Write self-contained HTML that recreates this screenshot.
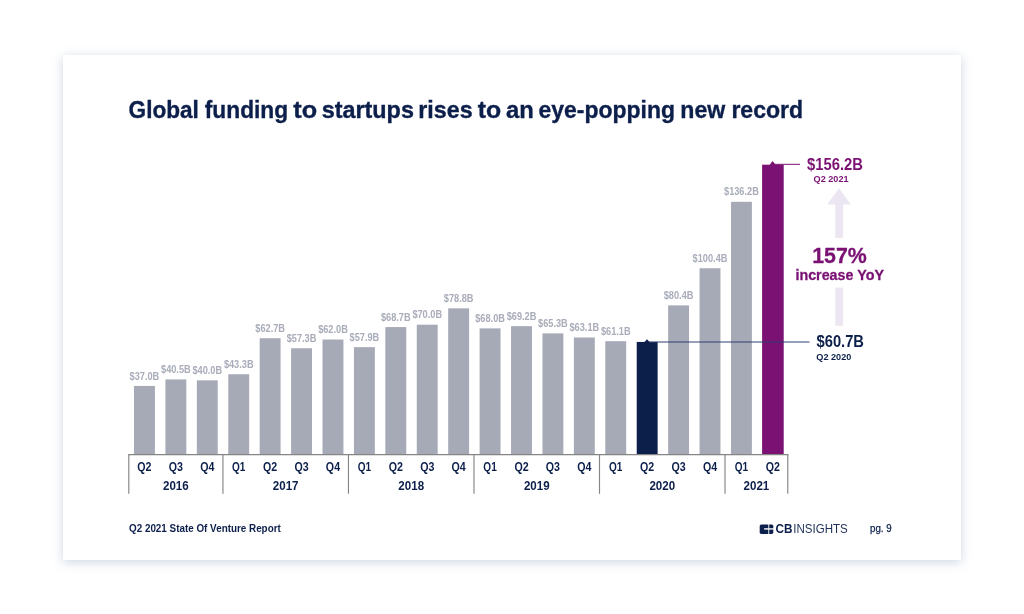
<!DOCTYPE html>
<html lang="en"><head><meta charset="utf-8"><title>Global funding to startups</title>
<style>
html,body{margin:0;padding:0;background:#fff;}
body{width:1024px;height:614px;overflow:hidden;position:relative;font-family:"Liberation Sans",sans-serif;}
.card{position:absolute;left:63.4px;top:54.8px;width:897.2px;height:505px;background:#fff;box-shadow:0 2px 10px rgba(105,135,175,.34);}
svg{position:absolute;left:0;top:0;}
text{font-family:"Liberation Sans",sans-serif;}
</style></head><body>
<div class="card"></div>
<svg width="1024" height="614" viewBox="0 0 1024 614">
<text y="118" font-size="24.5" font-weight="700" fill="#0c1f4b" stroke="#0c1f4b" stroke-width="0.35"><tspan x="128.55" textLength="70.36" lengthAdjust="spacingAndGlyphs">Global</tspan> <tspan x="204.78" textLength="83.41" lengthAdjust="spacingAndGlyphs">funding</tspan> <tspan x="293.38" textLength="23.82" lengthAdjust="spacingAndGlyphs">to</tspan> <tspan x="321.67" textLength="92.25" lengthAdjust="spacingAndGlyphs">startups</tspan> <tspan x="418.33" textLength="54.27" lengthAdjust="spacingAndGlyphs">rises</tspan> <tspan x="477.79" textLength="23.44" lengthAdjust="spacingAndGlyphs">to</tspan> <tspan x="505.88" textLength="27.85" lengthAdjust="spacingAndGlyphs">an</tspan> <tspan x="538.52" textLength="136.54" lengthAdjust="spacingAndGlyphs">eye-popping</tspan> <tspan x="680.32" textLength="44.99" lengthAdjust="spacingAndGlyphs">new</tspan> <tspan x="731.40" textLength="71.80" lengthAdjust="spacingAndGlyphs">record</tspan></text>
<rect x="134.00" y="385.93" width="20.9" height="68.67" fill="#a6a9b6"/>
<text x="144.45" y="379.53" font-size="10.6" font-weight="700" fill="#a9acb9" text-anchor="middle" textLength="29.66" lengthAdjust="spacingAndGlyphs">$37.0B</text>
<text x="144.45" y="470.6" font-size="12" font-weight="700" fill="#0c1f4b" text-anchor="middle" textLength="14.2" lengthAdjust="spacingAndGlyphs">Q2</text>
<rect x="165.42" y="379.43" width="20.9" height="75.17" fill="#a6a9b6"/>
<text x="175.87" y="373.03" font-size="10.6" font-weight="700" fill="#a9acb9" text-anchor="middle" textLength="29.66" lengthAdjust="spacingAndGlyphs">$40.5B</text>
<text x="175.87" y="470.6" font-size="12" font-weight="700" fill="#0c1f4b" text-anchor="middle" textLength="14.2" lengthAdjust="spacingAndGlyphs">Q3</text>
<rect x="196.84" y="380.36" width="20.9" height="74.24" fill="#a6a9b6"/>
<text x="207.29" y="373.96" font-size="10.6" font-weight="700" fill="#a9acb9" text-anchor="middle" textLength="29.66" lengthAdjust="spacingAndGlyphs">$40.0B</text>
<text x="207.29" y="470.6" font-size="12" font-weight="700" fill="#0c1f4b" text-anchor="middle" textLength="14.2" lengthAdjust="spacingAndGlyphs">Q4</text>
<rect x="228.26" y="374.24" width="20.9" height="80.36" fill="#a6a9b6"/>
<text x="238.71" y="367.84" font-size="10.6" font-weight="700" fill="#a9acb9" text-anchor="middle" textLength="29.66" lengthAdjust="spacingAndGlyphs">$43.3B</text>
<text x="238.71" y="470.6" font-size="12" font-weight="700" fill="#0c1f4b" text-anchor="middle" textLength="13.4" lengthAdjust="spacingAndGlyphs">Q1</text>
<rect x="259.68" y="338.23" width="20.9" height="116.37" fill="#a6a9b6"/>
<text x="270.13" y="331.83" font-size="10.6" font-weight="700" fill="#a9acb9" text-anchor="middle" textLength="29.66" lengthAdjust="spacingAndGlyphs">$62.7B</text>
<text x="270.13" y="470.6" font-size="12" font-weight="700" fill="#0c1f4b" text-anchor="middle" textLength="14.2" lengthAdjust="spacingAndGlyphs">Q2</text>
<rect x="291.10" y="348.25" width="20.9" height="106.35" fill="#a6a9b6"/>
<text x="301.55" y="341.85" font-size="10.6" font-weight="700" fill="#a9acb9" text-anchor="middle" textLength="29.66" lengthAdjust="spacingAndGlyphs">$57.3B</text>
<text x="301.55" y="470.6" font-size="12" font-weight="700" fill="#0c1f4b" text-anchor="middle" textLength="14.2" lengthAdjust="spacingAndGlyphs">Q3</text>
<rect x="322.52" y="339.53" width="20.9" height="115.07" fill="#a6a9b6"/>
<text x="332.97" y="333.13" font-size="10.6" font-weight="700" fill="#a9acb9" text-anchor="middle" textLength="29.66" lengthAdjust="spacingAndGlyphs">$62.0B</text>
<text x="332.97" y="470.6" font-size="12" font-weight="700" fill="#0c1f4b" text-anchor="middle" textLength="14.2" lengthAdjust="spacingAndGlyphs">Q4</text>
<rect x="353.94" y="347.14" width="20.9" height="107.46" fill="#a6a9b6"/>
<text x="364.39" y="340.74" font-size="10.6" font-weight="700" fill="#a9acb9" text-anchor="middle" textLength="29.66" lengthAdjust="spacingAndGlyphs">$57.9B</text>
<text x="364.39" y="470.6" font-size="12" font-weight="700" fill="#0c1f4b" text-anchor="middle" textLength="13.4" lengthAdjust="spacingAndGlyphs">Q1</text>
<rect x="385.36" y="327.09" width="20.9" height="127.51" fill="#a6a9b6"/>
<text x="395.81" y="320.69" font-size="10.6" font-weight="700" fill="#a9acb9" text-anchor="middle" textLength="29.66" lengthAdjust="spacingAndGlyphs">$68.7B</text>
<text x="395.81" y="470.6" font-size="12" font-weight="700" fill="#0c1f4b" text-anchor="middle" textLength="14.2" lengthAdjust="spacingAndGlyphs">Q2</text>
<rect x="416.78" y="324.68" width="20.9" height="129.92" fill="#a6a9b6"/>
<text x="427.23" y="318.28" font-size="10.6" font-weight="700" fill="#a9acb9" text-anchor="middle" textLength="29.66" lengthAdjust="spacingAndGlyphs">$70.0B</text>
<text x="427.23" y="470.6" font-size="12" font-weight="700" fill="#0c1f4b" text-anchor="middle" textLength="14.2" lengthAdjust="spacingAndGlyphs">Q3</text>
<rect x="448.20" y="308.35" width="20.9" height="146.25" fill="#a6a9b6"/>
<text x="458.65" y="301.95" font-size="10.6" font-weight="700" fill="#a9acb9" text-anchor="middle" textLength="29.66" lengthAdjust="spacingAndGlyphs">$78.8B</text>
<text x="458.65" y="470.6" font-size="12" font-weight="700" fill="#0c1f4b" text-anchor="middle" textLength="14.2" lengthAdjust="spacingAndGlyphs">Q4</text>
<rect x="479.62" y="328.39" width="20.9" height="126.21" fill="#a6a9b6"/>
<text x="490.07" y="321.99" font-size="10.6" font-weight="700" fill="#a9acb9" text-anchor="middle" textLength="29.66" lengthAdjust="spacingAndGlyphs">$68.0B</text>
<text x="490.07" y="470.6" font-size="12" font-weight="700" fill="#0c1f4b" text-anchor="middle" textLength="13.4" lengthAdjust="spacingAndGlyphs">Q1</text>
<rect x="511.04" y="326.16" width="20.9" height="128.44" fill="#a6a9b6"/>
<text x="521.49" y="319.76" font-size="10.6" font-weight="700" fill="#a9acb9" text-anchor="middle" textLength="29.66" lengthAdjust="spacingAndGlyphs">$69.2B</text>
<text x="521.49" y="470.6" font-size="12" font-weight="700" fill="#0c1f4b" text-anchor="middle" textLength="14.2" lengthAdjust="spacingAndGlyphs">Q2</text>
<rect x="542.46" y="333.40" width="20.9" height="121.20" fill="#a6a9b6"/>
<text x="552.91" y="327.00" font-size="10.6" font-weight="700" fill="#a9acb9" text-anchor="middle" textLength="29.66" lengthAdjust="spacingAndGlyphs">$65.3B</text>
<text x="552.91" y="470.6" font-size="12" font-weight="700" fill="#0c1f4b" text-anchor="middle" textLength="14.2" lengthAdjust="spacingAndGlyphs">Q3</text>
<rect x="573.88" y="337.49" width="20.9" height="117.11" fill="#a6a9b6"/>
<text x="584.33" y="331.09" font-size="10.6" font-weight="700" fill="#a9acb9" text-anchor="middle" textLength="29.66" lengthAdjust="spacingAndGlyphs">$63.1B</text>
<text x="584.33" y="470.6" font-size="12" font-weight="700" fill="#0c1f4b" text-anchor="middle" textLength="14.2" lengthAdjust="spacingAndGlyphs">Q4</text>
<rect x="605.30" y="341.20" width="20.9" height="113.40" fill="#a6a9b6"/>
<text x="615.75" y="334.80" font-size="10.6" font-weight="700" fill="#a9acb9" text-anchor="middle" textLength="29.66" lengthAdjust="spacingAndGlyphs">$61.1B</text>
<text x="615.75" y="470.6" font-size="12" font-weight="700" fill="#0c1f4b" text-anchor="middle" textLength="13.4" lengthAdjust="spacingAndGlyphs">Q1</text>
<rect x="636.72" y="341.94" width="20.9" height="112.66" fill="#0c1f4b"/>
<text x="647.17" y="470.6" font-size="12" font-weight="700" fill="#0c1f4b" text-anchor="middle" textLength="14.2" lengthAdjust="spacingAndGlyphs">Q2</text>
<rect x="668.14" y="305.38" width="20.9" height="149.22" fill="#a6a9b6"/>
<text x="678.59" y="298.98" font-size="10.6" font-weight="700" fill="#a9acb9" text-anchor="middle" textLength="29.66" lengthAdjust="spacingAndGlyphs">$80.4B</text>
<text x="678.59" y="470.6" font-size="12" font-weight="700" fill="#0c1f4b" text-anchor="middle" textLength="14.2" lengthAdjust="spacingAndGlyphs">Q3</text>
<rect x="699.56" y="268.26" width="20.9" height="186.34" fill="#a6a9b6"/>
<text x="710.01" y="261.86" font-size="10.6" font-weight="700" fill="#a9acb9" text-anchor="middle" textLength="34.8" lengthAdjust="spacingAndGlyphs">$100.4B</text>
<text x="710.01" y="470.6" font-size="12" font-weight="700" fill="#0c1f4b" text-anchor="middle" textLength="14.2" lengthAdjust="spacingAndGlyphs">Q4</text>
<rect x="730.98" y="201.81" width="20.9" height="252.79" fill="#a6a9b6"/>
<text x="741.43" y="195.41" font-size="10.6" font-weight="700" fill="#a9acb9" text-anchor="middle" textLength="34.8" lengthAdjust="spacingAndGlyphs">$136.2B</text>
<text x="741.43" y="470.6" font-size="12" font-weight="700" fill="#0c1f4b" text-anchor="middle" textLength="13.4" lengthAdjust="spacingAndGlyphs">Q1</text>
<rect x="762.10" y="164.69" width="21.6" height="289.91" fill="#7a1173"/>
<text x="772.85" y="470.6" font-size="12" font-weight="700" fill="#0c1f4b" text-anchor="middle" textLength="14.2" lengthAdjust="spacingAndGlyphs">Q2</text>
<path d="M128.20000000000002 454.6H788.38" stroke="#858585" stroke-width="1.1" fill="none"/>
<path d="M128.80 454.6V493.8" stroke="#858585" stroke-width="1.15" fill="none"/>
<path d="M222.94 454.6V493.8" stroke="#858585" stroke-width="1.15" fill="none"/>
<path d="M348.46 454.6V493.8" stroke="#858585" stroke-width="1.15" fill="none"/>
<path d="M473.98 454.6V493.8" stroke="#858585" stroke-width="1.15" fill="none"/>
<path d="M599.50 454.6V493.8" stroke="#858585" stroke-width="1.15" fill="none"/>
<path d="M725.02 454.6V493.8" stroke="#858585" stroke-width="1.15" fill="none"/>
<path d="M787.78 454.6V493.8" stroke="#858585" stroke-width="1.15" fill="none"/>
<text x="175.87" y="490.1" font-size="12" font-weight="700" fill="#0c1f4b" text-anchor="middle" textLength="25.7" lengthAdjust="spacingAndGlyphs">2016</text>
<text x="285.70" y="490.1" font-size="12" font-weight="700" fill="#0c1f4b" text-anchor="middle" textLength="25.7" lengthAdjust="spacingAndGlyphs">2017</text>
<text x="411.22" y="490.1" font-size="12" font-weight="700" fill="#0c1f4b" text-anchor="middle" textLength="25.7" lengthAdjust="spacingAndGlyphs">2018</text>
<text x="536.74" y="490.1" font-size="12" font-weight="700" fill="#0c1f4b" text-anchor="middle" textLength="25.7" lengthAdjust="spacingAndGlyphs">2019</text>
<text x="662.26" y="490.1" font-size="12" font-weight="700" fill="#0c1f4b" text-anchor="middle" textLength="25.7" lengthAdjust="spacingAndGlyphs">2020</text>
<text x="756.40" y="490.1" font-size="12" font-weight="700" fill="#0c1f4b" text-anchor="middle" textLength="25.7" lengthAdjust="spacingAndGlyphs">2021</text>
<path d="M839 188.2L850.8 204.5H827.2Z" fill="#ece5f2"/>
<rect x="835.3" y="204" width="7.8" height="34" fill="#ece5f2"/>
<rect x="835.3" y="287.5" width="7.8" height="38.3" fill="#ece5f2"/>
<path d="M772.5 164.3H800" stroke="#7a1173" stroke-width="1" fill="none"/>
<path d="M772.6 161L775.3 164.5L772.6 167L769.9 164.5Z" fill="#7a1173"/>
<text x="807" y="170" font-size="16.3" font-weight="700" fill="#7a1173" text-anchor="start" textLength="56" lengthAdjust="spacingAndGlyphs">$156.2B</text>
<text x="813.6" y="182.3" font-size="9.4" font-weight="700" fill="#7a1173" text-anchor="start" textLength="35" lengthAdjust="spacingAndGlyphs">Q2 2021</text>
<text x="839.5" y="262.5" font-size="22.4" font-weight="700" fill="#7a1173" text-anchor="middle" textLength="54.6" lengthAdjust="spacingAndGlyphs" stroke="#7a1173" stroke-width="0.3">157%</text>
<text x="839.7" y="279.8" font-size="15" font-weight="700" fill="#7a1173" text-anchor="middle" textLength="88.5" lengthAdjust="spacingAndGlyphs" stroke="#7a1173" stroke-width="0.3">increase YoY</text>
<path d="M647 342H809.5" stroke="#2d4170" stroke-width="1" fill="none"/>
<path d="M647 339.3L649.7 342.3L647 345L644.3 342.3Z" fill="#0c1f4b"/>
<text x="816.5" y="347" font-size="16.3" font-weight="700" fill="#0c1f4b" text-anchor="start" textLength="47.5" lengthAdjust="spacingAndGlyphs">$60.7B</text>
<text x="816.3" y="360" font-size="9.4" font-weight="700" fill="#0c1f4b" text-anchor="start" textLength="35" lengthAdjust="spacingAndGlyphs">Q2 2020</text>
<text x="129" y="531.8" font-size="10" font-weight="700" fill="#0c1f4b" text-anchor="start" textLength="151.8" lengthAdjust="spacingAndGlyphs">Q2 2021 State Of Venture Report</text>
<rect x="759.7" y="524.4" width="13.6" height="9.5" rx="1.6" fill="#0c1f4b"/>
<path d="M768.75 524V534.2" stroke="#fff" stroke-width="0.9" fill="none"/><path d="M764.1 528.9H774" stroke="#fff" stroke-opacity=".85" stroke-width="1.6" fill="none"/>
<text x="775.6" y="533.4" font-size="12" font-weight="700" fill="#0c1f4b" text-anchor="start" textLength="17" lengthAdjust="spacingAndGlyphs">CB</text>
<text x="793.3" y="533.4" font-size="12" font-weight="400" fill="#1d2f59" text-anchor="start" textLength="54.5" lengthAdjust="spacingAndGlyphs">INSIGHTS</text>
<text x="870" y="531.7" font-size="10.2" font-weight="400" fill="#0c1f4b" text-anchor="start" textLength="21.6" lengthAdjust="spacingAndGlyphs" stroke="#0c1f4b" stroke-width="0.25">pg. 9</text>
</svg>
</body></html>
